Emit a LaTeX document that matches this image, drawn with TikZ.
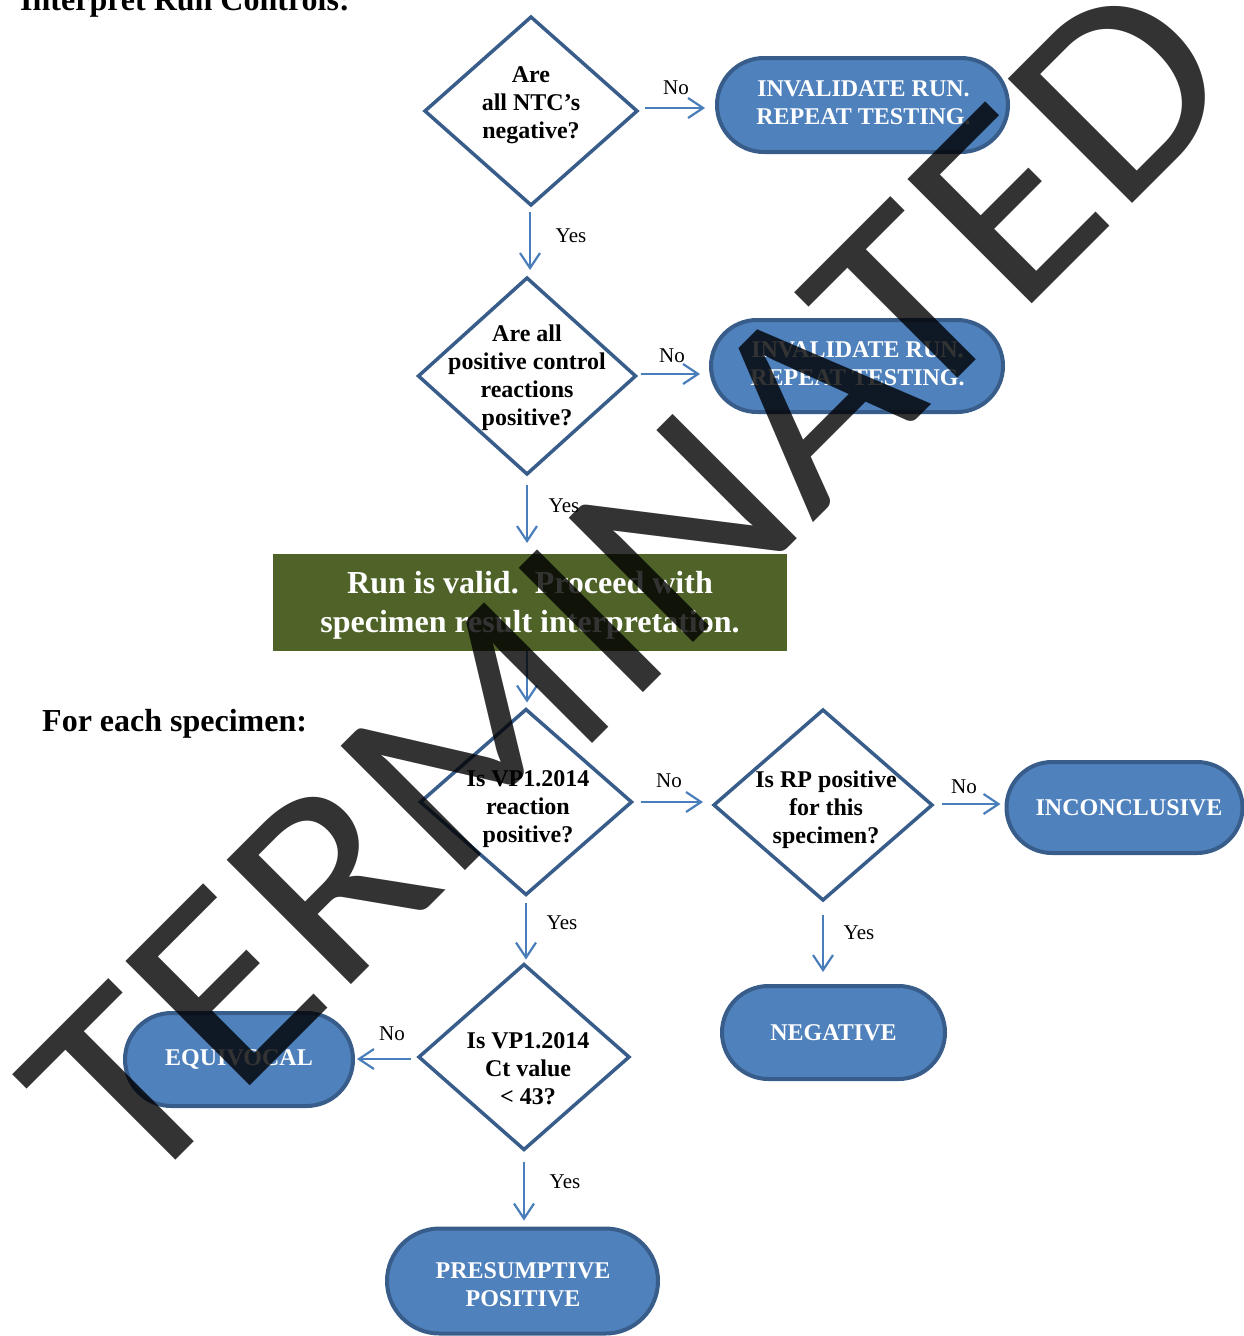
\documentclass[tikz,border=0pt]{standalone}
\usepackage{fontspec}
\setmainfont{Liberation Serif}
\newfontfamily\wmfont{Carlito}
\usetikzlibrary{shapes.geometric,shapes.misc,arrows.meta}
\definecolor{dborder}{HTML}{385D8A}
\definecolor{tfill}{HTML}{4F81BD}
\definecolor{arrowc}{HTML}{4A7EBB}
\definecolor{olivebox}{HTML}{4F6228}
\begin{document}
\begin{tikzpicture}[x=1pt,y=-1pt,
  dec/.style={diamond, draw=dborder, line width=3.5pt, fill=white, inner sep=0pt, outer sep=0pt},
  dtext/.style={align=center, font=\fontsize{24}{28}\selectfont\bfseries, inner sep=0pt},
  term/.style={rounded rectangle, draw=dborder, line width=4pt, fill=tfill, text=white, align=center,
    font=\fontsize{24}{28}\selectfont\bfseries, inner sep=0pt, outer sep=0pt},
  ttext/.style={align=center, text=white, font=\fontsize{24}{28}\selectfont\bfseries, inner sep=0pt},
  conn/.style={draw=arrowc, line width=2.2pt, -{Straight Barb[length=15pt,width=20pt]}},
  lab/.style={font=\fontsize{21}{24}\selectfont, inner sep=0pt},
  heading/.style={font=\fontsize{32}{36}\selectfont\bfseries, inner sep=0pt, anchor=base west},
]
\useasboundingbox (0,0) rectangle (1244,1336);

% headings
\node[heading] (title) at (20,10) {Interpret Run Controls:};
\node[heading] (foreach) at (42,731) {For each specimen:};

% decisions
\node[dec, minimum width=212pt, minimum height=188pt] (d1) at (531,111) {};
\node[dec, minimum width=217pt, minimum height=196pt] (d2) at (527,376) {};
\node[dec, minimum width=211pt, minimum height=185pt] (d3) at (526,802) {};
\node[dec, minimum width=218pt, minimum height=190pt] (d4) at (823,805) {};
\node[dec, minimum width=210pt, minimum height=185pt] (d5) at (524,1057) {};

\node[dtext] (d1t) at (531,105) {Are\\all NTC’s\\negative?};
\node[dtext] (d2t) at (527,378) {Are all\\positive control\\reactions\\positive?};
\node[dtext] (d3t) at (528,809) {Is VP1.2014\\reaction\\positive?};
\node[dtext] (d4t) at (826,810) {Is RP positive\\for this\\specimen?};
\node[dtext] (d5t) at (528,1069) {Is VP1.2014\\Ct value\\< 43?};

% terminals
\node[term, minimum width=291pt, minimum height=94pt] (t1) at (862.5,105) {};
\node[ttext] (t1t) at (863.5,103) {INVALIDATE RUN.\\REPEAT TESTING.};
\node[term, minimum width=292pt, minimum height=92pt] (t2) at (857,366) {};
\node[ttext] (t2t) at (857.5,364) {INVALIDATE RUN.\\REPEAT TESTING.};
\node[term, minimum width=236pt, minimum height=91pt] (t3) at (1124.5,807.5) {\hspace*{9pt}INCONCLUSIVE};
\node[term, minimum width=223pt, minimum height=93pt] (t4) at (833.5,1032.5) {NEGATIVE};
\node[term, minimum width=228pt, minimum height=93pt] (t5) at (239,1059.5) {EQUIVOCAL};
\node[term, minimum width=271pt, minimum height=105pt] (t6) at (522.5,1281) {};
\node[ttext] (t6t) at (523,1285) {PRESUMPTIVE\\POSITIVE};

% valid box
\node[fill=olivebox, minimum width=514pt, minimum height=97pt, inner sep=0pt, outer sep=0pt] (g) at (530,602.5) {};
\node[text=white, align=center, inner sep=0pt, font=\fontsize{32}{39}\selectfont\bfseries] (gt) at (530,605)
  {Run is valid.\ \ Proceed with\\specimen result interpretation.};

% connectors
\draw[conn, shorten <=8pt, shorten >=12pt] (d1.east) ++(0,-3) coordinate (c1s) -- (c1s -| t1.west);
\draw[conn, shorten <=7pt, shorten >=8pt] ([xshift=-1pt]d1.south) -- ([xshift=-1pt]d1.south |- d2.north);
\draw[conn, shorten <=5pt, shorten >=11pt] ([yshift=2pt]d2.east) -- ([yshift=2pt]d2.east -| t2.west);
\draw[conn, shorten <=11pt, shorten >=11pt] (d2.south) -- (d2.south |- g.north);
\draw[conn, shorten >=7pt] ([xshift=-3pt]g.south) -- ([xshift=-3pt]g.south |- d3.north);
\draw[conn, shorten <=9pt, shorten >=11pt] (d3.east) -- (d3.east -| d4.west);
\draw[conn, shorten <=10pt, shorten >=6pt] ([yshift=1pt]d4.east) -- ([yshift=1pt]d4.east -| t3.west);
\draw[conn, shorten <=15pt, shorten >=14pt] (d4.south) -- (d4.south |- t4.north);
\draw[conn, shorten <=8pt, shorten >=5pt] (d3.south) -- (d3.south |- d5.north);
\draw[conn, shorten <=8pt, shorten >=4pt] ([yshift=-2pt]d5.west) -- ([yshift=-2pt]d5.west -| t5.east);
\draw[conn, shorten <=12pt, shorten >=8pt] (d5.south) -- (d5.south |- t6.north);

% connector labels
\node[lab] (l1) at (676,88) {No};
\node[lab] (l2) at (571,236) {Yes};
\node[lab] (l3) at (672,356) {No};
\node[lab] (l4) at (564,506) {Yes};
\node[lab] (l6) at (669,781) {No};
\node[lab] (l7) at (964,787) {No};
\node[lab] (l8) at (859,933) {Yes};
\node[lab] (l9) at (562,923) {Yes};
\node[lab] (l10) at (392,1034) {No};
\node[lab] (l11) at (565,1182) {Yes};

% watermark
\node[font=\wmfont\fontsize{274}{274}\selectfont, text=black, text opacity=0.8, rotate=45, xscale=1.07,
  anchor=base, inner sep=0pt] (wm) at (690,646) {TERMINATED};
\end{tikzpicture}
\end{document}
